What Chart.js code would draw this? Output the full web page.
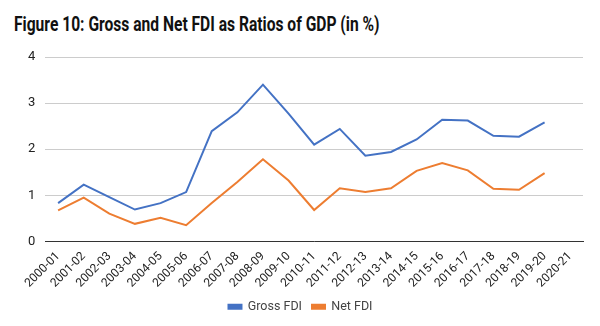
<!DOCTYPE html>
<html>
<head>
<meta charset="utf-8">
<script src="https://cdn.jsdelivr.net/npm/chart.js@4"></script>
<style>
  html, body { margin: 0; padding: 0; background: #fff; }
  #wrap { position: relative; width: 600px; height: 326px; }
  #title {
    position: absolute; left: 14px; top: 12px;
    font-family: Roboto, sans-serif; font-weight: bold; font-size: 20px;
    color: #111; white-space: nowrap;
    transform-origin: left top; transform: scaleX(0.78);
  }
  canvas { position: absolute; left: 0; top: 0; }
</style>
</head>
<body>
<div id="wrap">
  <div id="title">Figure 10: Gross and Net FDI as Ratios of GDP (in %)</div>
  <canvas id="fdiChart" width="600" height="326"></canvas>
</div>
<script>
const years = ['2000-01', '2001-02', '2002-03', '2003-04', '2004-05', '2005-06', '2006-07',
  '2007-08', '2008-09', '2009-10', '2010-11', '2011-12', '2012-13', '2013-14', '2014-15',
  '2015-16', '2016-17', '2017-18', '2018-19', '2019-20', '2020-21'];
const grossFdi = [0.83, 1.23, 0.96, 0.69, 0.83, 1.07, 2.39, 2.80, 3.40, 2.77, 2.10,
  2.44, 1.86, 1.94, 2.21, 2.64, 2.62, 2.29, 2.27, 2.58, null];
const netFdi = [0.67, 0.95, 0.60, 0.38, 0.51, 0.35, 0.83, 1.29, 1.78, 1.32, 0.68,
  1.15, 1.07, 1.15, 1.53, 1.70, 1.54, 1.14, 1.12, 1.48, null];
const yTicks = [0, 1, 2, 3, 4];

const ctx = document.getElementById('fdiChart').getContext('2d');
Chart.defaults.font.family = "Roboto, sans-serif";

new Chart(ctx, {
  type: 'line',
  data: {
    labels: years,
    datasets: [
      {
        label: 'Gross FDI',
        data: grossFdi,
        borderColor: '#4472c4',
        backgroundColor: '#4472c4',
        borderWidth: 2,
        pointRadius: 0,
        tension: 0
      },
      {
        label: 'Net FDI',
        data: netFdi,
        borderColor: '#ed7d31',
        backgroundColor: '#ed7d31',
        borderWidth: 2,
        pointRadius: 0,
        tension: 0
      }
    ]
  },
  options: {
    responsive: false,
    animation: false,
    layout: { padding: { top: 57, right: 17, left: 18, bottom: 3 } },
    plugins: {
      legend: {
        position: 'bottom',
        labels: {
          boxWidth: 13,
          boxHeight: 4,
          color: '#444',
          font: { size: 12.5 },
          padding: 10
        }
      },
      tooltip: { enabled: false }
    },
    scales: {
      x: {
        offset: true,
        grid: { display: false },
        border: { color: '#333', width: 1 },
        ticks: {
          color: '#222',
          font: { size: 12 },
          maxRotation: 45,
          minRotation: 45,
          autoSkip: false,
          padding: 0
        }
      },
      y: {
        min: 0,
        max: 4,
        afterBuildTicks: axis => { axis.ticks = yTicks.map(v => ({ value: v })); },
        grid: { color: '#ccc', drawTicks: false },
        border: { display: false },
        ticks: {
          color: '#222',
          font: { size: 13 },
          padding: 10
        }
      }
    }
  }
});
</script>
</body>
</html>
